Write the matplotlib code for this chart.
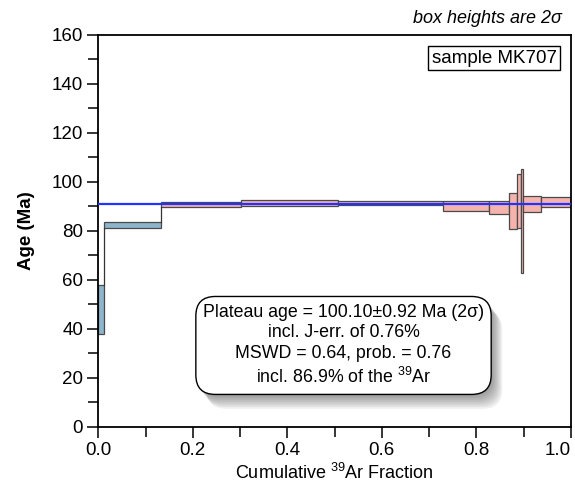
import matplotlib
matplotlib.use("Agg")
import matplotlib.pyplot as plt
import matplotlib.patheffects as pe
from matplotlib.ticker import MultipleLocator

plt.rcParams['font.family'] = ['Liberation Sans', 'DejaVu Sans']
plt.rcParams['mathtext.fontset'] = 'custom'
plt.rcParams['mathtext.rm'] = 'Liberation Sans'
plt.rcParams['mathtext.it'] = 'Liberation Sans:italic'

# step-heating spectrum: cumulative 39Ar fraction edges, step ages and 2-sigma errors (Ma)
frac_edges = [0.0, 0.013, 0.133, 0.301, 0.508, 0.730, 0.826, 0.870, 0.886, 0.895, 0.899, 0.937, 1.0]
ages = [47.9, 82.3, 90.9, 91.4, 91.5, 90.3, 89.6, 88.1, 92.2, 84.2, 90.9, 91.7]
errs = [10.1, 1.2, 1.1, 1.1, 0.9, 2.0, 2.8, 7.3, 11.1, 21.2, 3.3, 2.0]
in_plateau = [False, False, True, True, True, True, True, True, True, True, True, True]
ref_age = 91.0

x_ticks = [0.0, 0.2, 0.4, 0.6, 0.8, 1.0]
x_ticklabels = ['0.0', '0.2', '0.4', '0.6', '0.8', '1.0']

stats_lines = [
    "Plateau age = 100.10\u00b10.92 Ma (2\u03c3)",
    "incl. J-err. of 0.76%",
    "MSWD = 0.64, prob. = 0.76",
    r"incl. 86.9% of the $^{\mathregular{39}}$Ar",
]

fig = plt.figure(figsize=(5.75, 4.9), dpi=100)
ax = fig.add_axes([0.171, 0.1286, 0.8216, 0.8])

lefts = frac_edges[:-1]
widths = [b - a for a, b in zip(frac_edges[:-1], frac_edges[1:])]
bottoms = [a - e for a, e in zip(ages, errs)]
heights = [2 * e for e in errs]
colors = ['#f4b3ad' if p else '#8db6cc' for p in in_plateau]

ax.bar(lefts, heights, width=widths, bottom=bottoms, align='edge',
       color=colors, edgecolor='#4a4a4a', linewidth=0.9, zorder=2)

# vertical connectors between neighbouring steps
for i in range(len(ages) - 1):
    lo1, hi1 = ages[i] - errs[i], ages[i] + errs[i]
    lo2, hi2 = ages[i + 1] - errs[i + 1], ages[i + 1] + errs[i + 1]
    x = frac_edges[i + 1]
    if hi1 < lo2:
        ax.plot([x, x], [hi1, lo2], color='#333333', lw=0.9, zorder=2)
    elif hi2 < lo1:
        ax.plot([x, x], [hi2, lo1], color='#333333', lw=0.9, zorder=2)

ax.axhline(ref_age, color='#2233ff', lw=1.6, zorder=3)

ax.set_xlim(0, 1)
ax.set_ylim(0, 160)
ax.set_xticks(x_ticks, labels=x_ticklabels)
ax.xaxis.set_minor_locator(MultipleLocator(0.1))
ax.yaxis.set_major_locator(MultipleLocator(20))
ax.yaxis.set_minor_locator(MultipleLocator(10))
ax.tick_params(which='both', direction='out', width=1.1, labelsize=13.5, colors='black')
ax.tick_params(which='major', length=8, pad=3)
ax.tick_params(which='minor', length=7)
for s in ax.spines.values():
    s.set_linewidth(1.3)

# keep the last x label inside the figure
ax.xaxis.get_major_ticks()[-1].label1.set_horizontalalignment('right')

ax.set_ylabel('Age (Ma)', fontsize=13.5, fontweight='bold')
ax.yaxis.set_label_coords(-0.135, 0.5)
ax.set_xlabel(r'Cumulative $^{\mathregular{39}}$Ar Fraction', fontsize=13)
ax.xaxis.set_label_coords(0.5, -0.092)

fig.text(0.978, 0.962, 'box heights are 2\u03c3', ha='right', va='center',
         fontsize=13, style='italic')

ax.text(0.838, 0.941, 'sample MK707', transform=ax.transAxes, ha='center', va='center',
        fontsize=13.5, bbox=dict(boxstyle='square,pad=0.2', fc='white', ec='black', lw=1.0))

stats = ax.text(0.519, 0.208, '\n'.join(stats_lines), transform=ax.transAxes,
                ha='center', va='center', fontsize=12.8, linespacing=1.3, zorder=5,
                bbox=dict(boxstyle='round,pad=0.4,rounding_size=1.1',
                          fc='white', ec='black', lw=1.0))
shadow = [pe.SimplePatchShadow(offset=(d, -d * 1.3), shadow_rgbFace='#303030', alpha=0.07)
          for d in (1, 2, 3, 4, 5, 6, 7, 8)]
stats.get_bbox_patch().set_path_effects(shadow + [pe.Normal()])

fig.savefig('out.png', dpi=100, facecolor='white')
